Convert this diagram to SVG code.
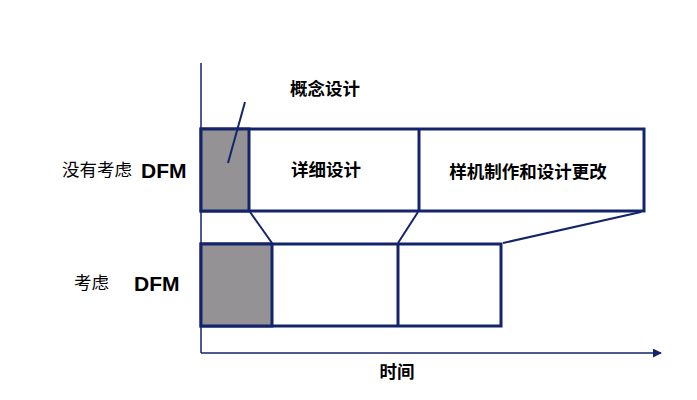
<svg xmlns="http://www.w3.org/2000/svg" width="697" height="400" viewBox="0 0 697 400">
<style>
.box{fill:#fff;stroke:#14246a;stroke-width:3}
.gray{fill:#949294;stroke:#14246a;stroke-width:3}
.ln{stroke:#14246a;stroke-width:2;fill:none}
.ax{stroke:#14246a;stroke-width:1.5;fill:none}
.lb{font-family:"Liberation Sans","Noto Sans CJK SC",sans-serif;font-weight:bold;font-size:17.5px;fill:#000}
.cn{font-family:"Noto Sans CJK SC",sans-serif;font-size:17.5px;fill:#000}
.dfm{font-family:"Liberation Sans",Arial,sans-serif;font-weight:bold;font-size:21px;fill:#000}
</style>
<defs>
<marker id="ah" viewBox="0 0 10 10" refX="9" refY="5" markerWidth="9" markerHeight="9" markerUnits="userSpaceOnUse" orient="auto">
<path d="M0,0 L10,5 L0,10 Z" fill="#14246a"/>
</marker>
</defs>
<rect width="697" height="400" fill="#fff"/>
<g id="axes">
<line class="ax" x1="201" y1="63" x2="201" y2="353"/>
<line class="ax" x1="201" y1="353" x2="661" y2="353" marker-end="url(#ah)"/>
</g>
<g id="top-row">
<rect class="box" x="201" y="129" width="443" height="82"/>
<rect id="concept-top" class="gray" x="201" y="129" width="48" height="82"/>
<line class="ln" style="stroke-width:3" x1="419" y1="129" x2="419" y2="211"/>
</g>
<g id="bottom-row">
<rect class="box" x="201" y="244" width="300" height="82"/>
<rect id="concept-bottom" class="gray" x="201" y="244" width="71" height="82"/>
<line class="ln" style="stroke-width:3" x1="398" y1="244" x2="398" y2="326"/>
</g>
<g id="connectors">
<line class="ln" x1="245" y1="102" x2="228" y2="163"/>
<line class="ln" x1="250" y1="212" x2="272" y2="243"/>
<line class="ln" x1="418" y1="212" x2="398" y2="243"/>
<line class="ln" x1="641" y1="212" x2="503" y2="243"/>
</g>
<g id="labels">
<text class="lb" x="325" y="95" text-anchor="middle">概念设计</text>
<text class="lb" x="326" y="176" text-anchor="middle">详细设计</text>
<text class="lb" x="528" y="178" text-anchor="middle">样机制作和设计更改</text>
<text class="cn" x="62" y="176">没有考虑</text>
<text class="dfm" x="141" y="178">DFM</text>
<text class="cn" x="74" y="289">考虑</text>
<text class="dfm" x="134" y="291">DFM</text>
<text class="lb" x="397" y="378" text-anchor="middle">时间</text>
</g>
</svg>
